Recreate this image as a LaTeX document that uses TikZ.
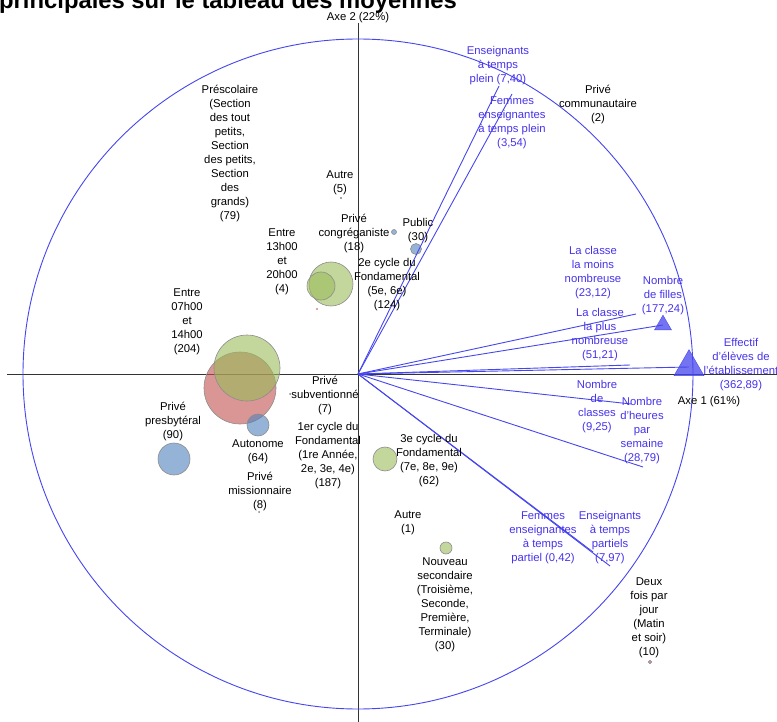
\documentclass[tikz,border=0pt]{standalone}
\usepackage{fontspec}
\setmainfont{Liberation Sans}
\usetikzlibrary{shapes.geometric}

\definecolor{trait}{RGB}{70,70,238}
\definecolor{textebleu}{RGB}{70,50,235}
\definecolor{vert}{RGB}{155,187,89}
\definecolor{rouge}{RGB}{192,80,77}
\definecolor{bleu}{RGB}{79,129,189}

\tikzset{
	etiquette/.style={align=center, inner sep=0pt, font=\fontsize{11.3}{14}\selectfont},
	etiquettebleue/.style={etiquette, text=textebleu},
	vecteur/.style={draw=trait, line width=0.9pt},
	bulle/.style={draw=black!45, line width=0.6pt, fill opacity=0.6},
	axe/.style={draw=black!80, line width=0.9pt},
	triangle/.style={regular polygon, regular polygon sides=3, inner sep=0pt, draw=trait, fill=trait, fill opacity=0.75}
}

\begin{document}
\begin{tikzpicture}[x=1pt, y=-1pt]
	\clip (0,0) rectangle (777,722);
	
	\draw (-1,9) node[anchor=base west, inner sep=0pt, font=\fontsize{23.8}{26}\selectfont\bfseries] (titre)
	{principales sur le tableau des moyennes};
	
	% axes et cercle
	\coordinate (origine) at (358,374);
	\draw[axe] (7,374) -- (777,374);
	\draw[axe] (358,23) -- (358,722);
	\draw[trait, line width=0.9pt] (origine) circle (335);
	
	\draw (358,18) node[etiquette] (axe2) {Axe 2 (22\%)};
	\draw (709,402) node[etiquette] (axe1) {Axe 1 (61\%)};
	
	% bulles
	\draw[bulle, fill=rouge] (240,388) circle (36);
	\draw[bulle, fill=vert] (247,368) circle (33);
	\draw[bulle, fill=bleu] (258,425) circle (11);
	\draw[bulle, fill=bleu] (174,459) circle (16);
	\draw[bulle, fill=vert] (331,284) circle (22);
	\draw[bulle, fill=vert] (321,286) circle (14);
	\draw[bulle, fill=bleu] (394,232) circle (2.5);
	\draw[bulle, fill=bleu] (416,249) circle (5.5);
	\draw[bulle, fill=vert] (385,459) circle (12);
	\draw[bulle, fill=vert] (446,548) circle (6);
	\draw[bulle, fill=rouge] (650,662) circle (1.8);
	\fill[rouge!70] (317,309) circle (1.2);
	\fill[black!50] (341,198) circle (1.2);
	\fill[black!50] (290,394) circle (1);
	\fill[black!50] (259,512) circle (1);
	
	% vecteurs
	\coordinate (finPlein) at (499,86);
	\coordinate (finFemmesPlein) at (512,94);
	\coordinate (finMoins) at (636,314);
	\coordinate (finPlus) at (630,365);
	\coordinate (finClasses) at (631,404);
	\coordinate (finHeures) at (643,467);
	\coordinate (finFemmesPartiel) at (593,552);
	\coordinate (finPartiels) at (610,566);
	\draw (663,325) node[triangle, minimum size=19.6pt] (filles) {};
	\draw (689,367) node[triangle, minimum size=34.6pt] (effectif) {};
	
	\draw[vecteur] (origine) -- (finPlein);
	\draw[vecteur] (origine) -- (finFemmesPlein);
	\draw[vecteur] (origine) -- (finMoins);
	\draw[vecteur] (origine) -- (filles.center);
	\draw[vecteur] (origine) -- (finPlus);
	\draw[vecteur] (origine) -- (effectif.center);
	\draw[vecteur] (origine) -- (finClasses);
	\draw[vecteur] (origine) -- (finHeures);
	\draw[vecteur] (origine) -- (finFemmesPartiel);
	\draw[vecteur] (origine) -- (finPartiels);
	
	% modalites
	\draw (230,154) node[etiquette] (prescolaire)
	{
		Préscolaire \\ (Section \\ des tout \\ petits, \\ Section \\ des petits, \\ Section \\ des \\ grands) \\ (79)
	};
	\draw (340,182.5) node[etiquette] (autre5) {Autre \\ (5)};
	\draw (354,234) node[etiquette] (congreganiste) {Privé \\ congréganiste \\ (18)};
	\draw (418,230.5) node[etiquette] (public) {Public \\ (30)};
	\draw (387,284.5) node[etiquette] (cycle2) {2e cycle du \\ Fondamental \\ (5e, 6e) \\ (124)};
	\draw (282,262) node[etiquette] (entre13) {Entre \\ 13h00 \\ et \\ 20h00 \\ (4)};
	\draw (187,321.5) node[etiquette] (entre07) {Entre \\ 07h00 \\ et \\ 14h00 \\ (204)};
	\draw (173,422) node[etiquette] (presbyteral) {Privé \\ presbytéral \\ (90)};
	\draw (258,452) node[etiquette] (autonome) {Autonome \\ (64)};
	\draw (260,492) node[etiquette] (missionnaire) {Privé \\ missionnaire \\ (8)};
	\draw (325,396) node[etiquette] (subventionne) {Privé \\ subventionné \\ (7)};
	\draw (328,455.5) node[etiquette] (cycle1) {1er cycle du \\ Fondamental \\ (1re Année, \\ 2e, 3e, 4e) \\ (187)};
	\draw (429,460.5) node[etiquette] (cycle3) {3e cycle du \\ Fondamental \\ (7e, 8e, 9e) \\ (62)};
	\draw (408,522.5) node[etiquette] (autre1) {Autre \\ (1)};
	\draw (445,604.5) node[etiquette] (secondaire)
	{
		Nouveau \\ secondaire \\ (Troisième, \\ Seconde, \\ Première, \\ Terminale) \\ (30)
	};
	\draw (649,618) node[etiquette] (deuxfois) {Deux \\ fois par \\ jour \\ (Matin \\ et soir) \\ (10)};
	\draw (598,104.5) node[etiquette] (communautaire) {Privé \\ communautaire \\ (2)};
	
	% variables
	\draw (498,66) node[etiquettebleue] (tplein) {Enseignants \\ à temps \\ plein (7,40)};
	\draw (512,123) node[etiquettebleue] (femmesplein) {Femmes \\ enseignantes \\ à temps plein \\ (3,54)};
	\draw (593,272.5) node[etiquettebleue] (moins) {La classe \\ la moins \\ nombreuse \\ (23,12)};
	\draw (663,296) node[etiquettebleue] (nbfilles) {Nombre \\ de filles \\ (177,24)};
	\draw (600,335) node[etiquettebleue] (plus) {La classe \\ la plus \\ nombreuse \\ (51,21)};
	\draw (741,365) node[etiquettebleue] (nbeleves) {Effectif \\ d'élèves de \\ l'établissement \\ (362,89)};
	\draw (597,406.5) node[etiquettebleue] (classes) {Nombre \\ de \\ classes \\ (9,25)};
	\draw (642,431) node[etiquettebleue] (heures) {Nombre \\ d'heures \\ par \\ semaine \\ (28,79)};
	\draw (543,537.5) node[etiquettebleue] (femmespartiel) {Femmes \\ enseignantes \\ à temps \\ partiel (0,42)};
	\draw (610,537.5) node[etiquettebleue] (tpartiels) {Enseignants \\ à temps \\ partiels \\ (7,97)};
\end{tikzpicture}
\end{document}
